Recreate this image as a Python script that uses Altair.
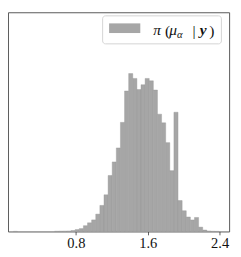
import altair as alt
import pandas as pd

# Histogram bins (lower edge of first bin and bin width) and bar heights
bin_lo = 0.105
bin_width = 0.0458
counts = [0.1, 0, 0, 0, 0, 0, 0, 0, 0, 0,
          0.2, 0.3, 0.4, 0.5, 1, 2, 3, 6, 9, 12,
          18, 27, 38, 58, 72, 86.5, 113, 145.5, 163.5, 158.5,
          147, 152, 158.5, 156, 146.5, 121.5, 112.5, 92, 63, 123.5,
          32, 21.5, 15, 12, 14.5, 4.5, 1.5, 0.5, 0.2, 0.1]
x_ticks = [0.8, 1.6, 2.4]
x_domain = [0.044, 2.506]
y_domain = [0, 227]

lo = [round(bin_lo + i * bin_width, 4) for i in range(len(counts))]
hi = [round(v + bin_width, 4) for v in lo]
df = pd.DataFrame({"lo": lo, "hi": hi, "count": counts})
df = df[df["count"] > 0]

W, H = 229, 227
FONT = "Times New Roman, Liberation Serif, serif"

bars = alt.Chart(df).mark_rect(color="#a6a6a6", stroke="#959595", strokeWidth=0.4).encode(
    x=alt.X("lo:Q", scale=alt.Scale(domain=x_domain, nice=False, zero=False),
            axis=alt.Axis(values=x_ticks, title=None, grid=False, domain=False,
                          labelFont=FONT, labelFontSize=15, labelColor="#111111",
                          tickColor="#333333", tickSize=3.5, tickWidth=0.8,
                          format=".1f", labelPadding=1)),
    x2="hi:Q",
    y=alt.Y("count:Q", scale=alt.Scale(domain=y_domain, nice=False), axis=None),
    y2=alt.datum(0),
)

one = pd.DataFrame({"a": [0]})
box = alt.Chart(one).mark_rect(fill="white", stroke="#d3d3d3", strokeWidth=1, cornerRadius=3).encode(
    x=alt.value(98), x2=alt.value(221), y=alt.value(3.7), y2=alt.value(32.7))
swatch = alt.Chart(one).mark_rect(fill="#a6a6a6").encode(
    x=alt.value(104.7), x2=alt.value(137), y=alt.value(11.5), y2=alt.value(21.5))

pieces = [
    ("π", 150.3, 24, 16, "italic", "normal"),
    ("(", 162.5, 25, 16, "normal", "normal"),
    ("μ", 167, 24, 16, "italic", "normal"),
    ("α", 175, 27, 11, "italic", "normal"),
    ("|", 191, 25, 16, "normal", "normal"),
    ("y", 198.5, 24, 16, "italic", "bold"),
    (")", 208.5, 25, 16, "normal", "normal"),
]
texts = []
for t, px, py, fs, st, wt in pieces:
    texts.append(alt.Chart(one).mark_text(text=t, font=FONT, fontSize=fs, fontStyle=st,
                                          fontWeight=wt, align="left", baseline="alphabetic",
                                          color="#111111").encode(x=alt.value(px), y=alt.value(py)))

chart = alt.layer(bars, box, swatch, *texts).properties(
    width=W, height=H,
    padding={"left": 0, "top": 0, "right": 4, "bottom": 22},
    autosize=alt.AutoSizeParams(type="none"),
).configure_view(stroke="#555555", strokeWidth=1)

chart.save("out.html", embed_options={"renderer": "svg", "actions": False})
